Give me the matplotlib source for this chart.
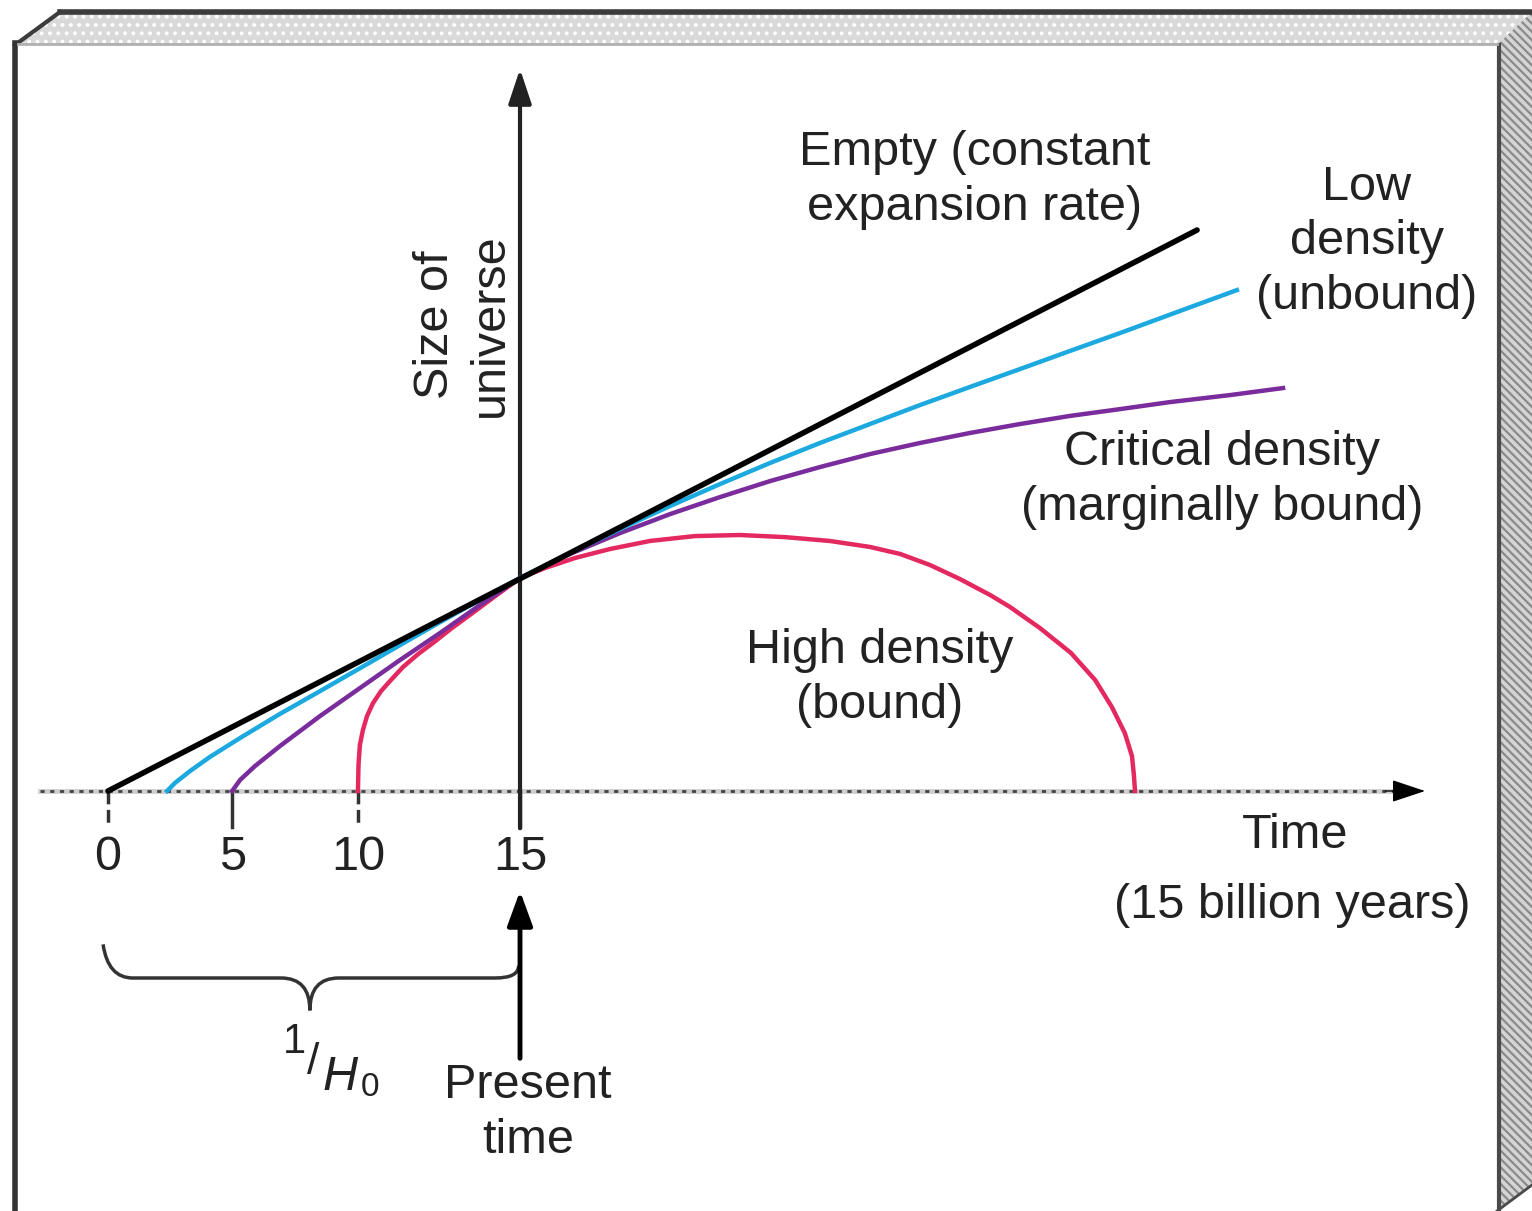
import numpy as np
import matplotlib
matplotlib.use('Agg')
import matplotlib.pyplot as plt
from matplotlib.patches import Polygon, PathPatch
from matplotlib.path import Path

plt.rcParams['font.family'] = ['Liberation Sans', 'DejaVu Sans']
plt.rcParams['hatch.linewidth'] = 1.6

W, H = 1532, 1211

# time (present = 15) vs relative size of the universe (present = 1)
empty_t = [0.0, 39.65]
empty_s = [0.0, 2.634]

low_t = [2.15, 2.44, 2.99, 3.71, 4.81, 6.26, 7.72, 9.18, 10.63, 12.09, 13.54, 15.0,
         16.82, 18.64, 20.46, 22.28, 24.10, 25.92, 27.74, 29.56, 31.38, 33.20,
         35.02, 36.84, 39.03, 41.10]
low_s = [0.0, 0.038, 0.094, 0.160, 0.249, 0.362, 0.469, 0.577, 0.685, 0.793,
         0.897, 1.0, 1.117, 1.230, 1.338, 1.441, 1.540, 1.634, 1.723, 1.812,
         1.897, 1.981, 2.066, 2.150, 2.254, 2.352]

crit_t = [4.52, 4.81, 5.35, 6.26, 7.72, 9.18, 10.63, 12.09, 13.54, 15.0,
          16.82, 18.64, 20.46, 22.28, 24.10, 25.92, 27.74, 29.56, 31.38, 33.20,
          35.02, 36.84, 38.66, 40.85, 42.78]
crit_s = [0.0, 0.052, 0.117, 0.211, 0.352, 0.484, 0.615, 0.742, 0.873, 1.0,
          1.113, 1.211, 1.300, 1.380, 1.455, 1.521, 1.582, 1.634, 1.681, 1.723,
          1.761, 1.793, 1.826, 1.859, 1.892]

high_t = [9.10, 9.12, 9.17, 9.28, 9.43, 9.65, 9.94, 10.30, 10.74, 11.29, 11.87,
          12.52, 13.22, 13.91, 14.45, 15.0,
          15.91, 17.00, 18.27, 19.73, 21.37, 23.01, 24.65, 26.28, 27.74, 28.84,
          29.93, 31.02, 32.12, 32.84, 33.93, 35.06, 35.94, 36.55, 37.02, 37.28,
          37.35, 37.39]
high_s = [0.0, 0.122, 0.216, 0.286, 0.352, 0.413, 0.469, 0.521, 0.582, 0.643,
          0.699, 0.765, 0.831, 0.897, 0.948, 1.0,
          1.047, 1.094, 1.136, 1.174, 1.197, 1.202, 1.192, 1.174, 1.146, 1.113,
          1.061, 0.995, 0.920, 0.864, 0.765, 0.648, 0.521, 0.394, 0.272, 0.164,
          0.075, 0.0]

tick_pos = [0.0, 4.52, 9.10, 15.0]
tick_labels = ['0', '5', '10', '15']

fig = plt.figure(figsize=(W / 100, H / 100), dpi=100)
ax = fig.add_axes([0, 0, 1, 1])
ax.set_xlim(-3.932, 51.844)
ax.set_ylim(-1.972, 3.714)
ax.axis('off')


def fp(x, y):
    # picture pixel -> figure fraction
    return x / W, 1 - y / H


# box frame
top = Polygon([fp(15, 45), fp(60, 12), fp(1532, 12), fp(1497, 45)], closed=True,
              transform=fig.transFigure, facecolor='#d9d9d9', edgecolor='white',
              hatch='..', lw=0, zorder=0)
right = Polygon([fp(1497, 45), fp(1532, 12), fp(1532, 1185), fp(1497, 1211)], closed=True,
                transform=fig.transFigure, facecolor='#d4d4d4', edgecolor='#8a8a8a',
                hatch='\\\\\\\\', lw=0, zorder=0)
fig.patches.extend([top, right])
for pts, lw, c in [([(60, 12), (1532, 12)], 4, '#3c3c3c'),
                   ([(15, 45), (60, 12)], 3, '#3c3c3c'),
                   ([(15, 43), (15, 1211)], 4, '#333333'),
                   ([(1499, 45), (1499, 1211)], 3, '#4a4a4a'),
                   ([(1497, 1211), (1532, 1185)], 2, '#4a4a4a'),
                   ([(18, 44), (1497, 44)], 2, '#b0b0b0')]:
    xs, ys = zip(*[fp(*p) for p in pts])
    fig.add_artist(plt.Line2D(xs, ys, lw=lw, color=c, transform=fig.transFigure))

# time axis (dotted) with arrow
ax.plot([-2.48, 46.9], [0, 0], color='#cfcfcf', lw=3.5, zorder=1)
ax.plot([-2.48, 46.9], [0, 0], color='#444444', lw=2, ls=(0, (1.5, 2)), zorder=1)
ax.annotate('', xy=(47.95, 0), xytext=(46.5, 0),
            arrowprops=dict(arrowstyle='-|>,head_length=0.6,head_width=0.2',
                            mutation_scale=35, color='black', lw=1, shrinkA=0, shrinkB=0))

# size axis with arrow
ax.annotate('', xy=(15, 3.39), xytext=(15, -0.175),
            arrowprops=dict(arrowstyle='-|>,head_length=0.6,head_width=0.2',
                            mutation_scale=35, color='#222222', lw=3, shrinkA=0, shrinkB=0))

# ticks and labels
for p, lab in zip(tick_pos, tick_labels):
    ls = '--' if lab in ('0', '10') else '-'
    ax.plot([p, p], [0, -0.17], color='#333333', lw=2.5, ls=ls, zorder=1)
    ax.text(p, -0.31, lab, ha='center', va='center', fontsize=35, color='#222222')

# curves
ax.plot(high_t, high_s, color='#e3295f', lw=3.2, zorder=3)
ax.plot(crit_t, crit_s, color='#7a2c9c', lw=3.2, zorder=4)
ax.plot(low_t, low_s, color='#1ca9df', lw=3.2, zorder=5)
ax.plot(empty_t, empty_s, color='black', lw=4, zorder=6, solid_capstyle='round')

# present time arrow
ax.annotate('', xy=(15, -0.47), xytext=(15, -1.255),
            arrowprops=dict(arrowstyle='-|>,head_length=0.6,head_width=0.22',
                            mutation_scale=35, color='black', lw=3.5, shrinkA=0, shrinkB=0))

# brace spanning 0 .. present
yb = -0.878
verts = [(-0.18, -0.72), (0.0, yb), (0.9, yb), (6.3, yb), (7.35, yb), (7.35, -1.03),
         (7.35, yb), (8.4, yb), (14.1, yb), (14.95, yb), (14.95, -0.82)]
codes = [Path.MOVETO, Path.CURVE3, Path.CURVE3, Path.LINETO, Path.CURVE3, Path.CURVE3,
         Path.CURVE3, Path.CURVE3, Path.LINETO, Path.CURVE3, Path.CURVE3]
ax.add_patch(PathPatch(Path(verts, codes), fill=False, lw=2.5, edgecolor='#333333'))

# labels
tk = dict(transform=fig.transFigure, ha='center', va='center', fontsize=35,
          color='#222222', linespacing=1.28)
fig.text(*fp(975, 180), 'Empty (constant\nexpansion rate)', **tk)
fig.text(*fp(1367, 242), 'Low\ndensity\n(unbound)', **tk)
fig.text(*fp(1222, 480), 'Critical density\n(marginally bound)', **tk)
fig.text(*fp(880, 678), 'High density\n(bound)', **tk)
fig.text(*fp(463, 325), 'Size of\nuniverse', rotation=90, **tk)
fig.text(*fp(1295, 835), 'Time', **tk)
fig.text(*fp(1292, 905), '(15 billion years)', **tk)
fig.text(*fp(528, 1113), 'Present\ntime', **tk)

# 1/H0
fig.text(*fp(294, 1042), '1', transform=fig.transFigure, ha='center', va='center',
         fontsize=30, color='#222222')
fig.text(*fp(313, 1062), '/', transform=fig.transFigure, ha='center', va='center',
         fontsize=32, color='#222222')
fig.text(*fp(340, 1077), 'H', transform=fig.transFigure, ha='center', va='center',
         fontsize=35, style='italic', color='#222222')
fig.text(*fp(370, 1088), '0', transform=fig.transFigure, ha='center', va='center',
         fontsize=24, color='#222222')

fig.savefig('out.png', dpi=100)
